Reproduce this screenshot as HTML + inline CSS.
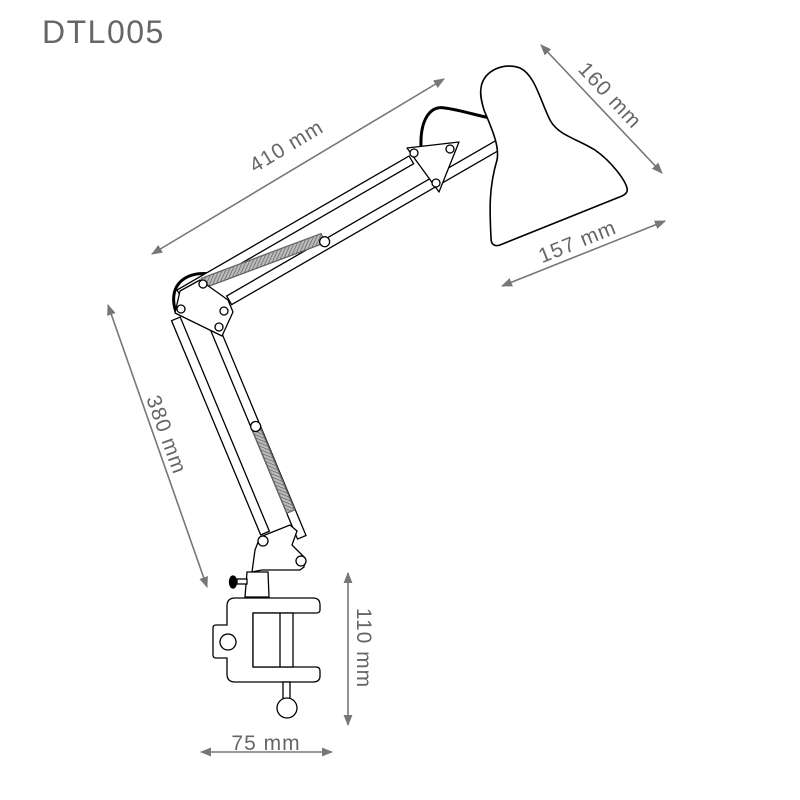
<!DOCTYPE html>
<html><head><meta charset="utf-8"><style>
html,body{margin:0;padding:0;background:#fff;}
svg{display:block;}
text{font-family:"Liberation Sans",sans-serif;fill:#666;}
</style></head><body>
<svg width="800" height="800" viewBox="0 0 800 800" xmlns="http://www.w3.org/2000/svg">
<defs>
<pattern id="h" width="3" height="3" patternUnits="userSpaceOnUse" patternTransform="rotate(45)">
<rect width="3" height="3" fill="#bbb"/><line x1="0" y1="0" x2="0" y2="3" stroke="#555" stroke-width="1.2"/>
</pattern>
<marker id="a" viewBox="0 0 10 10" refX="9" refY="5" markerWidth="7" markerHeight="7" orient="auto-start-reverse">
<path d="M0,1 L10,5 L0,9 z" fill="#777"/></marker>
</defs>
<text x="42" y="43" font-size="32" letter-spacing="1.5">DTL005</text>

<!-- dimension lines -->
<g stroke="#777" stroke-width="1.6" fill="none">
<line x1="152" y1="254" x2="444" y2="79" marker-start="url(#a)" marker-end="url(#a)"/>
<line x1="541" y1="45" x2="662" y2="173" marker-start="url(#a)" marker-end="url(#a)"/>
<line x1="502" y1="286" x2="665" y2="221" marker-start="url(#a)" marker-end="url(#a)"/>
<line x1="108" y1="305" x2="207" y2="587" marker-start="url(#a)" marker-end="url(#a)"/>
<line x1="348" y1="573" x2="348" y2="725" marker-start="url(#a)" marker-end="url(#a)"/>
<line x1="201" y1="752" x2="332" y2="752" marker-start="url(#a)" marker-end="url(#a)"/>
</g>
<g font-size="21" letter-spacing="1" text-anchor="middle">
<text transform="translate(290,152) rotate(-31)">410 mm</text>
<text transform="translate(605,100) rotate(47)">160 mm</text>
<text transform="translate(580,248) rotate(-22)">157 mm</text>
<text transform="translate(160,437) rotate(70)">380 mm</text>
<text transform="translate(357,648) rotate(90)">110 mm</text>
<text x="266" y="750">75 mm</text>
</g>

<!-- cables -->
<g stroke="#000" stroke-width="3" fill="none">
<path d="M176,312 C168,290 180,270 212,274"/>
<path d="M421,147 C420,120 430,105 445,108 C460,110 475,115 490,118"/>
</g>

<!-- upper arm -->
<g transform="translate(177,290) rotate(-30)" stroke="#000" stroke-width="1.3" fill="#fff">
<rect x="0" y="0" width="268" height="9"/>
<rect x="40" y="30" width="330" height="10"/>
<g transform="translate(26,7) rotate(9.5)">
<rect x="0" y="-5" width="128" height="10" fill="url(#h)" stroke="#666"/>
</g>
<circle cx="152" cy="32" r="5"/>
</g>

<!-- shade -->
<path d="M481,88 C483,70 505,62 520,68 C535,75 540,100 550,120 C558,135 575,138 595,150 C612,162 625,180 627,188 C628,192 626,194 622,196 L500,245 C494,247 491,244 491,238 C490,215 488,190 497,160 C500,145 490,125 484,110 C481,100 480,94 481,88 z" fill="#fff" stroke="#000" stroke-width="1.6"/>

<!-- upper joint plate -->
<g stroke="#000" stroke-width="1.3" fill="#fff">
<path d="M407,148 L459,142 L439,192 Z" stroke-linejoin="round"/>
<circle cx="414" cy="153" r="4"/><circle cx="450" cy="149" r="4"/><circle cx="436" cy="183" r="4"/>
</g>

<!-- lower arm -->
<g transform="translate(178,318) rotate(67.4)" stroke="#000" stroke-width="1.3" fill="#fff">
<rect x="0" y="-2.4" width="232" height="9.4"/>
<rect x="0" y="-34.6" width="250" height="9.2"/>
<rect x="132" y="-34" width="90" height="8.5" fill="url(#h)" stroke="#666"/>
<circle cx="130" cy="-30" r="5"/>
</g>

<!-- lower joint plate -->
<g stroke="#000" stroke-width="1.3" fill="#fff">
<path d="M175,313 L180,291 L200,280 L228,300 L233,312 L222,336 Z" stroke-linejoin="round"/>
<circle cx="203" cy="284" r="4"/>
<circle cx="181" cy="309" r="4"/><circle cx="224" cy="311" r="4"/><circle cx="219" cy="327" r="4"/>
</g>

<!-- base joint -->
<g stroke="#000" stroke-width="1.3" fill="#fff">
<path d="M252,572 L255,550 L260,537 L290,525 L297,531 L292,545 L305,558 L304,567 L300,570 L262,570 Z"/>
<circle cx="263" cy="541" r="5"/><circle cx="301" cy="561" r="5"/>
<path d="M247,572 L268,572 L269,597 L245,597 Z"/>
<rect x="237" y="579" width="10" height="5"/>
<ellipse cx="233" cy="582" rx="3.5" ry="6" fill="#000"/>
<!-- clamp -->
<path d="M235,598 L313,598 Q320,598 320,605 L320,610 Q320,613 316,613 L253,613 L253,667 L316,667 Q320,667 320,671 L320,676 Q320,682 313,682 L235,682 Q227,682 227,674 L227,658 L216,658 Q213,658 213,655 L213,628 Q213,625 216,625 L227,625 L227,606 Q227,598 235,598 Z"/>
<rect x="253" y="613" width="40" height="54"/>
<line x1="280" y1="613" x2="280" y2="667"/>
<circle cx="228" cy="642" r="8"/>
<rect x="283" y="682" width="7" height="20"/>
<circle cx="287" cy="708" r="10"/>
</g>
</svg>
</body></html>
